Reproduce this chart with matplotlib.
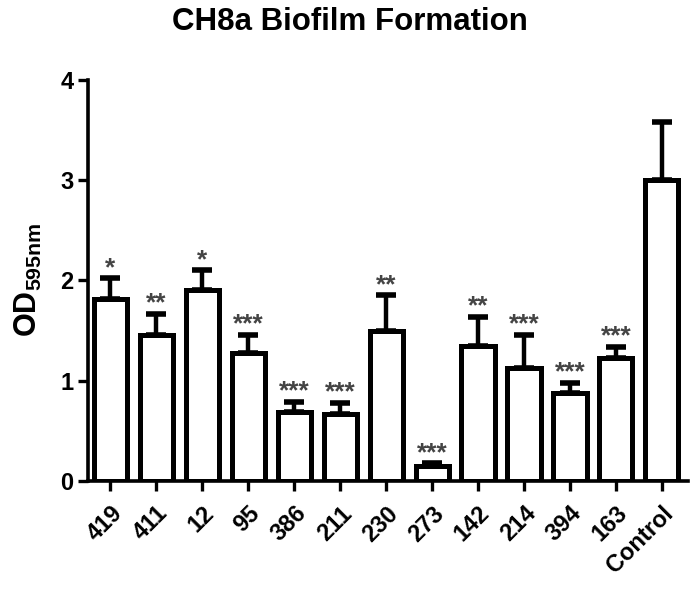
import numpy as np
import matplotlib
matplotlib.use("Agg")
import matplotlib.pyplot as plt

plt.rcParams['font.family'] = ['Liberation Sans', 'DejaVu Sans']
plt.rcParams['font.weight'] = 'bold'
plt.rcParams['mathtext.fontset'] = 'custom'
plt.rcParams['mathtext.bf'] = 'Liberation Sans:bold'
plt.rcParams['mathtext.rm'] = 'Liberation Sans:bold'

# Data
strains = ['419', '411', '12', '95', '386', '211', '230', '273', '142', '214', '394', '163', 'Control']
od_mean = [1.81, 1.46, 1.90, 1.28, 0.69, 0.67, 1.50, 0.15, 1.35, 1.13, 0.88, 1.23, 3.00]
od_err = [0.21, 0.21, 0.20, 0.18, 0.10, 0.11, 0.35, 0.03, 0.29, 0.33, 0.10, 0.11, 0.58]
stars = ['*', '**', '*', '***', '***', '***', '**', '***', '**', '***', '***', '***', '']

fig = plt.figure(figsize=(7.0, 5.96), dpi=100)
ax = fig.add_axes([0.126, 0.193, 0.857, 0.673])

x = np.arange(len(strains))
ax.bar(x, od_mean, width=0.72, color='white', edgecolor='black', linewidth=3.6, zorder=2)
ax.errorbar(x, od_mean, yerr=[np.zeros(len(od_err)), od_err], fmt='none',
            ecolor='black', elinewidth=3.2, capsize=7, capthick=4.0, zorder=1)

# significance marks above the error caps
for xi, m, e, s in zip(x, od_mean, od_err, stars):
    if s:
        ax.text(xi, m + e + 0.03, s, ha='center', va='baseline', fontsize=19,
                color='#444444', fontweight='bold')

ax.set_xlim(-0.48, 12.57)
ax.set_ylim(0, 4)
ax.set_yticks([0, 1, 2, 3, 4])
ax.set_xticks(x)
ax.set_xticklabels(strains, rotation=45, ha='right', rotation_mode='anchor')

for sp in ['top', 'right']:
    ax.spines[sp].set_visible(False)
for sp in ['left', 'bottom']:
    ax.spines[sp].set_linewidth(2.6)

ax.tick_params(axis='both', direction='out', length=7, width=2.4, labelsize=17)
ax.tick_params(axis='x', pad=8)
for lab in ax.get_xticklabels() + ax.get_yticklabels():
    lab.set_fontweight('bold')

ax.set_ylabel(r'OD$_{\mathbf{595nm}}$', fontsize=22, fontweight='bold', labelpad=12)
fig.suptitle('CH8a Biofilm Formation', fontsize=22.5, fontweight='bold', x=0.5, y=0.988)

fig.savefig('out.png', dpi=100)
